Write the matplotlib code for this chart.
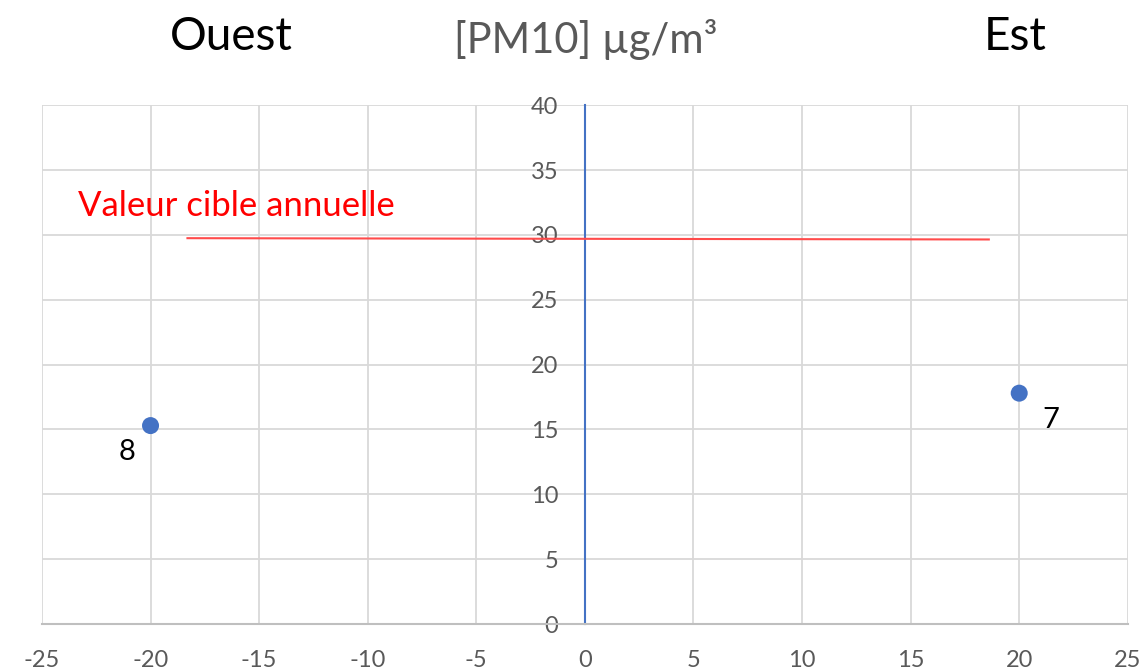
import matplotlib
matplotlib.use("Agg")
import matplotlib.pyplot as plt

plt.rcParams['font.family'] = ['Lato', 'DejaVu Sans']
plt.rcParams['axes.unicode_minus'] = False

# station positions (west < 0 < east) and PM10 values
site_x = [-20, 20]
site_y = [15.3, 17.8]
site_labels = ["8", "7"]

# annual target value line
target_x = [-18.3, 18.6]
target_y = [29.75, 29.65]

xticks = list(range(-25, 30, 5))
yticks = list(range(0, 45, 5))

fig = plt.figure(figsize=(11.43, 6.72), dpi=100)
ax = fig.add_axes([0.0367, 0.0714, 0.950, 0.772])

ax.set_xlim(-25, 25)
ax.set_ylim(0, 40)
ax.set_xticks(xticks)
ax.set_yticks(yticks)
ax.grid(True, color="#D9D9D9", linewidth=1.3, zorder=0)
ax.set_axisbelow(True)

for s in ["top", "right"]:
    ax.spines[s].set_visible(False)
ax.spines["left"].set_position(("data", 0))
ax.spines["left"].set_color("#4472C4")
ax.spines["left"].set_linewidth(1.5)
ax.spines["bottom"].set_color("#BFBFBF")
ax.spines["bottom"].set_linewidth(1.5)

ax.tick_params(axis="y", length=0, pad=19, labelsize=17, labelcolor="#595959")
ax.tick_params(axis="x", length=0, pad=19, labelsize=17, labelcolor="#595959")

ax.plot(target_x, target_y, color="#FF4B4B", linewidth=1.5, zorder=3)
ax.text(-23.35, 32.2, "Valeur cible annuelle", color="#FF0000", fontsize=25,
        ha="left", va="center")

ax.scatter(site_x, site_y, s=150, color="#4472C4", zorder=4, edgecolors="none")
offsets = [(-17, -19), (23, -19)]
for x, y, lab, off in zip(site_x, site_y, site_labels, offsets):
    ax.annotate(lab, (x, y), xytext=off, textcoords="offset points",
                fontsize=21, ha="center", va="center", color="black")

fig.text(231 / 1143, 1 - 37 / 672, "Ouest", fontsize=33, ha="center", va="center")
fig.text(586 / 1143, 1 - 40 / 672, "[PM10] µg/m³", fontsize=30, ha="center",
         va="center", color="#595959")
fig.text(1015 / 1143, 1 - 37 / 672, "Est", fontsize=33, ha="center", va="center")

fig.savefig("out.png", dpi=100)
